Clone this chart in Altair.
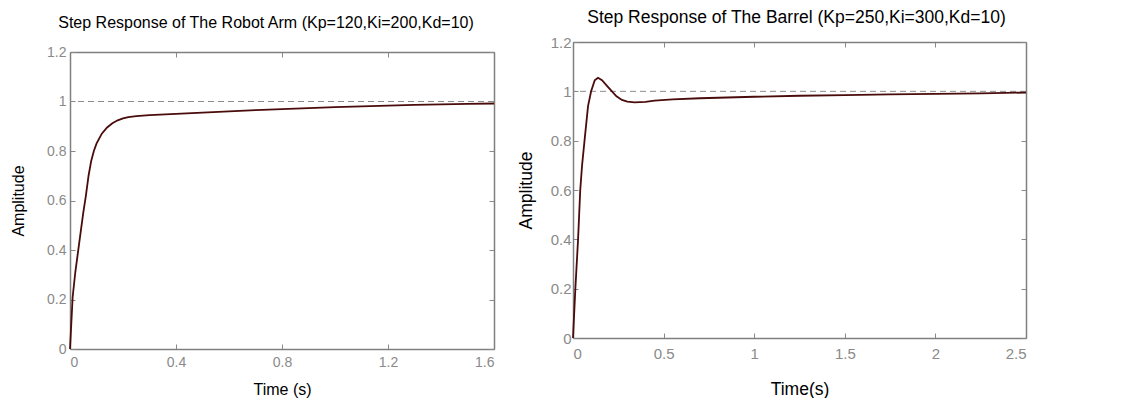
import altair as alt
import pandas as pd

# ---- data ----
arm_t = [0, 0.01, 0.02, 0.03, 0.04, 0.05, 0.06, 0.07, 0.08, 0.09, 0.10, 0.12, 0.14, 0.16, 0.18,
         0.20, 0.22, 0.25, 0.30, 0.40, 0.50, 0.60, 0.70, 0.80, 0.90, 1.00, 1.10, 1.20, 1.30,
         1.40, 1.50, 1.60]
arm_y = [0, 0.21, 0.31, 0.39, 0.47, 0.55, 0.62, 0.70, 0.76, 0.80, 0.83, 0.87, 0.895, 0.912, 0.924,
         0.932, 0.937, 0.941, 0.945, 0.950, 0.955, 0.960, 0.965, 0.969, 0.973, 0.977, 0.980,
         0.983, 0.986, 0.988, 0.990, 0.992]

barrel_t = [0, 0.013, 0.028, 0.04, 0.05, 0.065, 0.083, 0.10, 0.12, 0.138, 0.16, 0.19, 0.215,
            0.24, 0.27, 0.30, 0.34, 0.40, 0.45, 0.55, 0.70, 0.85, 1.00, 1.25, 1.50, 1.75, 2.00,
            2.25, 2.50]
barrel_y = [0, 0.20, 0.40, 0.60, 0.70, 0.81, 0.94, 1.00, 1.045, 1.055, 1.045, 1.02, 1.00,
            0.98, 0.965, 0.958, 0.955, 0.957, 0.962, 0.967, 0.972, 0.975, 0.978, 0.982, 0.985,
            0.988, 0.990, 0.992, 0.995]

arm_xticks = [0, 0.4, 0.8, 1.2, 1.6]
barrel_xticks = [0, 0.5, 1, 1.5, 2, 2.5]
y_ticks = [0, 0.2, 0.4, 0.6, 0.8, 1, 1.2]
reference = [1.0]

FONT = "Liberation Sans"
GREY = "#8a8a8a"
FRAME = "#7f7f7f"
LINE = "#4a0b0b"


def panel(t, y, xticks, xmax, title, xtitle, W, Hv, gap, tsize, lsize, atsize, toff, tdx,
          ylabpad, ytitlepad, xlabpad, xtitlepad):
    """Hv = height of the view; the framed plot box starts `gap` px below its top."""
    df = pd.DataFrame({"t": t, "y": y})
    ref = pd.DataFrame({"ref": reference})
    xs = alt.Scale(domain=[0, xmax], nice=False, zero=False)
    ys = alt.Scale(domain=[0, 1.2], nice=False, range=[Hv, gap])

    main = alt.Chart(df).mark_line(color=LINE, strokeWidth=1.8).encode(
        x=alt.X("t:Q", scale=xs, axis=alt.Axis(
            orient="bottom", values=xticks, format="~g", ticks=False, domain=False,
            grid=False, labelColor=GREY, labelFontSize=lsize, labelFont=FONT,
            labelPadding=xlabpad, title=xtitle, titleFont=FONT, titleFontSize=atsize,
            titleFontWeight="normal", titleColor="#000", titlePadding=xtitlepad)),
        y=alt.Y("y:Q", scale=ys, axis=alt.Axis(
            orient="left", values=y_ticks, format="~g", ticks=False, domain=False,
            grid=False, labelColor=GREY, labelFontSize=lsize, labelFont=FONT,
            labelPadding=ylabpad, title="Amplitude", titleFont=FONT, titleFontSize=atsize,
            titleFontWeight="normal", titleColor="#000", titlePadding=ytitlepad)),
    )

    def frame_axis(orient, vals, off):
        # inward ticks + frame line, drawn by an axis moved onto the opposite edge
        return alt.Axis(orient=orient, values=vals, offset=off, labels=False, ticks=True,
                        tickSize=5, tickColor=GREY, tickWidth=1, domain=True,
                        domainColor=FRAME, domainWidth=1.5, grid=False, title=None)

    ticks_a = alt.Chart(df).mark_line(opacity=0).encode(
        x=alt.X("t:Q", scale=xs, axis=frame_axis("top", xticks, -Hv)),          # bottom edge
        y=alt.Y("y:Q", scale=ys, axis=frame_axis("right", y_ticks, -W)),        # left edge
    )
    ticks_b = alt.Chart(df).mark_line(opacity=0).encode(
        x=alt.X("t:Q", scale=xs, axis=frame_axis("bottom", xticks, -(Hv - gap))),  # top edge
        y=alt.Y("y:Q", scale=ys, axis=frame_axis("left", y_ticks, -W)),          # right edge
    )
    rule = alt.Chart(ref).mark_rule(color="#8c8c8c", strokeDash=[6, 4], strokeWidth=1).encode(
        y=alt.Y("ref:Q", scale=ys, axis=None)
    )

    ttl = alt.TitleParams(title, font=FONT, fontSize=tsize, fontWeight="normal",
                          color="#000", offset=toff, dx=tdx, anchor="middle")

    return alt.layer(ticks_a, ticks_b, rule, main).resolve_axis(
        x="independent", y="independent"
    ).properties(width=W, height=Hv, title=ttl)


left = panel(arm_t, arm_y, arm_xticks, 1.6,
             "Step Response of The Robot Arm (Kp=120,Ki=200,Kd=10)", "Time (s)",
             424, 307, 10, 16, 14, 16, 11, -16, 4, 20, 6, 12)
right = panel(barrel_t, barrel_y, barrel_xticks, 2.5,
              "Step Response of The Barrel (Kp=250,Ki=300,Kd=10)", "Time(s)",
              453, 296, 0, 17.5, 15, 17.5, 9, -3, 2, 15, 8, 19)

chart = alt.hconcat(left, right, spacing=19).properties(
    padding={"top": 0, "left": 2, "right": 0, "bottom": 0},
).configure_view(strokeOpacity=0)

chart.save("out.html", embed_options={"renderer": "svg", "actions": False})
